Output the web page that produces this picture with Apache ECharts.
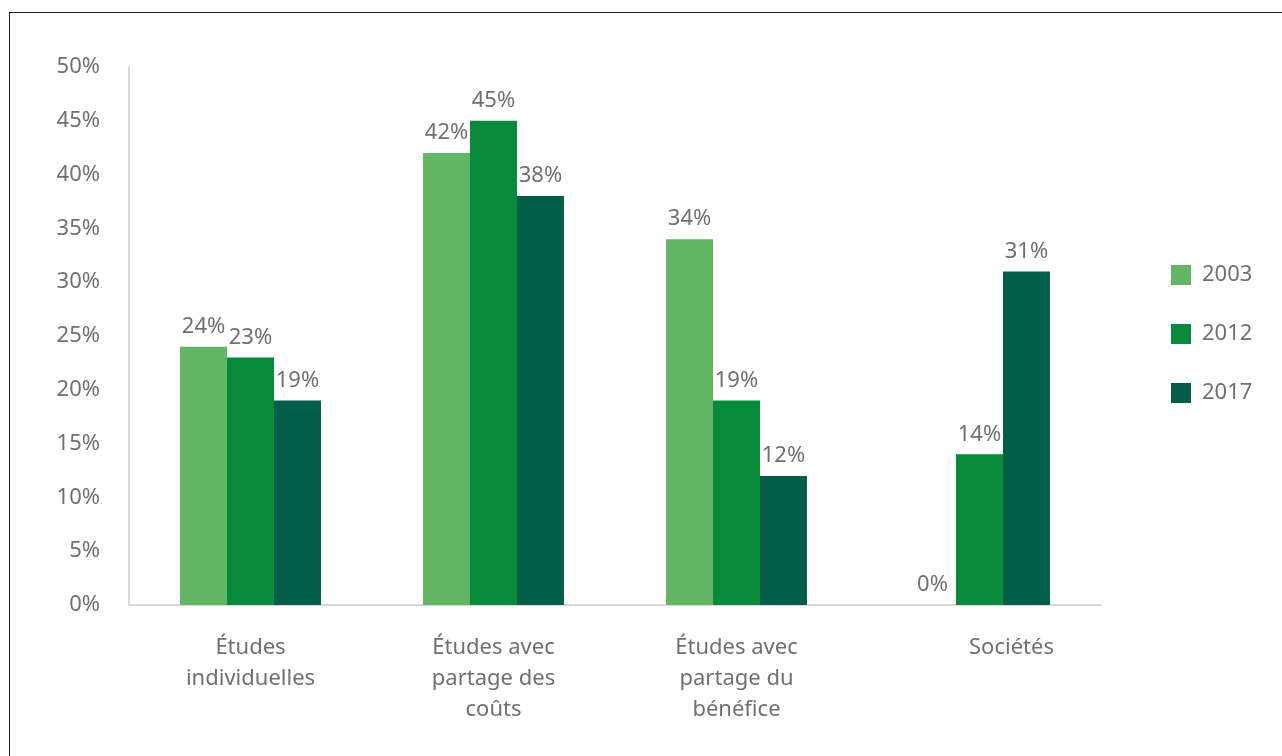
<!DOCTYPE html>
<html>
<head>
<meta charset="utf-8">
<script src="https://cdn.jsdelivr.net/npm/echarts@6/dist/echarts.min.js"></script>
<style>
	html, body { margin: 0; padding: 0; background: #fff; }
	#frame { position: absolute; left: 9px; top: 12px; width: 1300px; height: 800px; border: 1.5px solid #222; box-sizing: border-box; }
	#echart { position: absolute; left: 0; top: 0; width: 1282px; height: 756px; }
</style>
</head>
<body>
<div id="frame"></div>
<div id="echart"></div>
<script>
	'use strict'

	var categories = ['Études\nindividuelles', 'Études avec\npartage des\ncoûts', 'Études avec\npartage du\nbénéfice', 'Sociétés'];
	var years = ['2003', '2012', '2017'];
	var values2003 = [24, 42, 34, 0];
	var values2012 = [23, 45, 19, 14];
	var values2017 = [19, 38, 12, 31];
	var colors = ['#63b663', '#078b3a', '#025e49'];

	var font = 'Noto Sans';
	var textColor = '#707070';

	var labelStyle = {
		show: true,
		position: 'top',
		distance: 9,
		formatter: '{c}%',
		fontSize: 22,
		color: textColor,
		fontFamily: font
	};

	function makeSeries(name, data, color) {
		return {
			name: name,
			type: 'bar',
			data: data,
			barGap: '0%',
			barCategoryGap: '42%',
			itemStyle: { color: color },
			label: labelStyle
		};
	}

	// last label sits a bit right of its group in the original
	var xData = categories.map(function(c, i) {
		if (i === categories.length - 1) {
			return { value: c, textStyle: { padding: [0, 0, 0, 64] } };
		}
		return c;
	});

	var chart = echarts.init(document.getElementById('echart'));
	var option = {
		animation: false,
		grid: {
			top: 67,
			right: 181,
			bottom: 151,
			left: 129
		},
		legend: {
			orient: 'vertical',
			left: 1166,
			top: 255,
			itemWidth: 20,
			itemHeight: 20,
			itemGap: 29,
			icon: 'rect',
			textStyle: { fontSize: 22, color: textColor, fontFamily: font, padding: [0, 0, 0, 6], lineHeight: 30 },
			data: years
		},
		xAxis: {
			type: 'category',
			data: xData,
			axisLine: { lineStyle: { color: '#d9d9d9', width: 2 } },
			axisTick: { show: false },
			axisLabel: {
				fontSize: 22,
				color: textColor,
				fontFamily: font,
				lineHeight: 31,
				margin: 27,
				verticalAlign: 'top',
				interval: 0
			}
		},
		yAxis: {
			type: 'value',
			min: 0,
			max: 50,
			interval: 5,
			splitLine: { show: false },
			axisLine: { show: true, lineStyle: { color: '#d9d9d9', width: 2 } },
			axisTick: { show: false },
			axisLabel: {
				formatter: '{value}%',
				fontSize: 22,
				color: textColor,
				fontFamily: font,
				margin: 29
			}
		},
		series: [
			makeSeries(years[0], values2003, colors[0]),
			makeSeries(years[1], values2012, colors[1]),
			makeSeries(years[2], values2017, colors[2])
		]
	};
	chart.setOption(option);
</script>
</body>
</html>
